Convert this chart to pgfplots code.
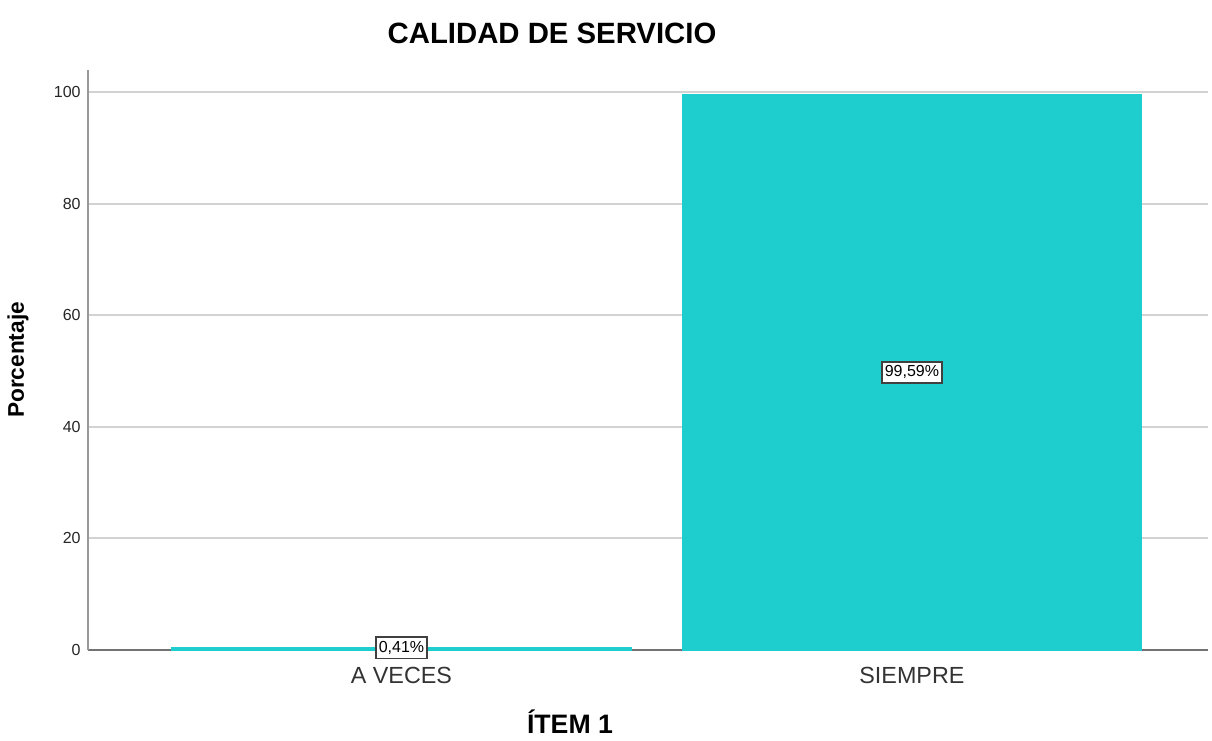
\documentclass[border=0pt]{standalone}
\usepackage{pgfplots}
\pgfplotsset{compat=1.18}
\usepackage{fontspec}
\setmainfont{Liberation Sans}
\definecolor{barteal}{HTML}{1ECECE}
\definecolor{gridgray}{HTML}{D2D2D2}
\begin{document}
\begin{tikzpicture}[x=1pt,y=1pt]
% frame of the 1212x740 picture, 1px = 0.75pt, origin at the axis corner
\path[use as bounding box] (-66,-67.5) rectangle (843,487.5);
\begin{axis}[
  at={(0,0)}, anchor=south west,
  width=840pt, height=435pt, scale only axis,
  xmin=-0.614, xmax=1.58,
  ymin=0, ymax=104,
  xtick={0,1}, xticklabels={A VECES,SIEMPRE},
  ytick={0,20,40,60,80,100},
  axis x line*=bottom, axis y line*=left,
  x axis line style={-, color=black!55, line width=1.5pt},
  y axis line style={-, color=black!40, line width=1.5pt},
  major tick length=0pt,
  ymajorgrids,
  grid style={gridgray, line width=1.5pt},
  /pgf/number format/assume math mode=true,
  yticklabel style={font=\fontsize{12}{12}\selectfont, color=black!85, xshift=-2pt},
  xticklabel style={font=\fontsize{17.5}{17.5}\selectfont, color=black!80, yshift=-9pt},
  ybar, bar width=0.9,
]
\addplot[fill=barteal, draw=barteal, line width=0.8pt] coordinates {(0,0.41) (1,99.59)};
\end{axis}
\begin{axis}[
  at={(0,0)}, anchor=south west,
  width=840pt, height=435pt, scale only axis,
  xmin=-0.614, xmax=1.58, ymin=0, ymax=104,
  hide axis, clip=false,
]
\node[draw=black!75, fill=white, line width=1.3pt, inner xsep=2pt, inner ysep=3pt,
  font=\fontsize{12}{12}\selectfont] at (axis cs:1,49.8) {99,59\%};
\node[draw=black!75, fill=white, line width=1.3pt, inner xsep=2pt, inner ysep=3pt,
  font=\fontsize{12}{12}\selectfont] at (axis cs:0,0.4) {0,41\%};
\end{axis}
\node[font=\fontsize{22}{22}\selectfont\bfseries] at (348,462.75) {CALIDAD DE SERVICIO};
\node[font=\fontsize{20}{20}\selectfont\bfseries] at (361.5,-54) {ÍTEM 1};
\node[font=\fontsize{17}{17}\selectfont\bfseries, rotate=90] at (-52.5,217.5) {Porcentaje};
\end{tikzpicture}
\end{document}
